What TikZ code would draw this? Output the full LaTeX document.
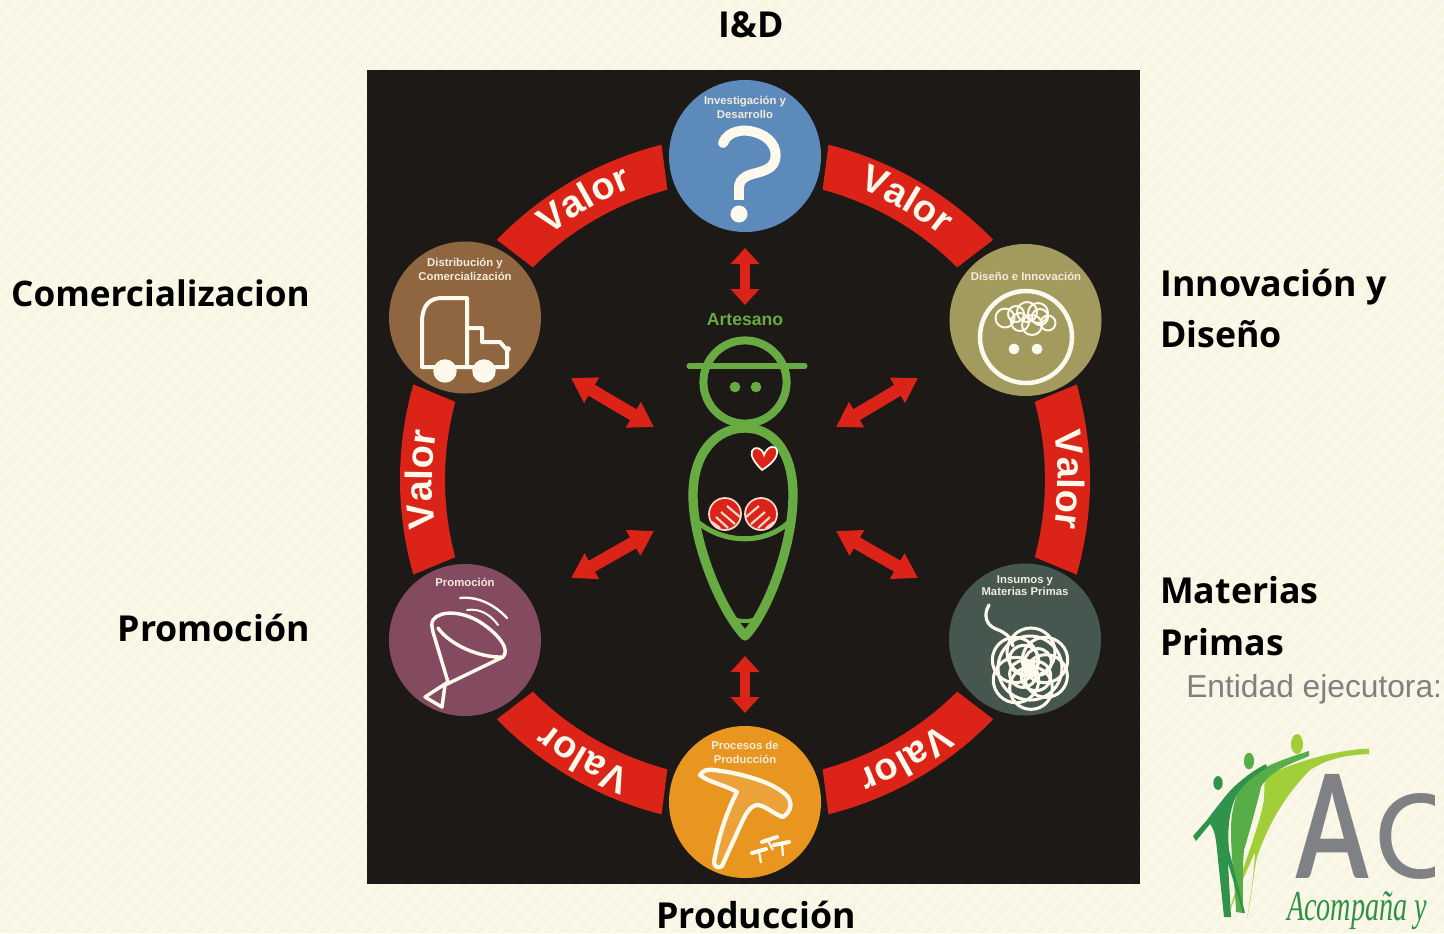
\documentclass[tikz,border=0pt]{standalone}
\usepackage{fontspec}
\setmainfont{Liberation Sans}
\newfontfamily\labelfont{Open Sans}
\newfontfamily\logofont{Lato}
\newfontfamily\handfont{Liberation Serif}
\usetikzlibrary{arrows.meta,decorations.text}
\definecolor{pagebg}{HTML}{F8F5E3}
\definecolor{pagestripe}{HTML}{FBF9EC}
\definecolor{panel}{HTML}{1C1917}
\definecolor{bandred}{HTML}{DC2318}
\definecolor{cream}{HTML}{FDF9EC}
\definecolor{captxt}{HTML}{F1ECDC}
\definecolor{cblue}{HTML}{5B8ABB}
\definecolor{colive}{HTML}{A39A5E}
\definecolor{cslate}{HTML}{45574F}
\definecolor{corange}{HTML}{E8961F}
\definecolor{cmauve}{HTML}{834A60}
\definecolor{cbrown}{HTML}{8F663F}
\definecolor{figgreen}{HTML}{69AB43}
\definecolor{greytxt}{HTML}{808080}
\definecolor{logogrey}{HTML}{808184}
\definecolor{logolime}{HTML}{A2CE39}
\definecolor{logomid}{HTML}{57AD47}
\definecolor{logodark}{HTML}{2F934B}
\definecolor{logoscript}{HTML}{2F9148}
\newcommand{\valorfont}{\bfseries\fontsize{28.5}{30}\selectfont}
\tikzset{
  stage/.style={circle,inner sep=0pt,minimum size=114pt},
  captext/.style={text=captxt,font=\bfseries\fontsize{8.5}{10.5}\selectfont,align=center,inner sep=0pt},
  bigl/.style={text=black,font=\labelfont\bfseries\fontsize{26.8}{38}\selectfont,inner sep=0pt,align=left},
  icon/.style={draw=cream,line width=3pt,line join=round,line cap=round},
  thinicon/.style={draw=cream,line width=1.5pt},
  fig/.style={draw=figgreen,line width=7pt,line cap=round,line join=round},
  vdbl/.style={draw=bandred,line width=7.5pt,{Triangle[length=12pt,width=21pt]}-{Triangle[length=12pt,width=21pt]}},
  ddbl/.style={draw=bandred,line width=9.5pt,{Triangle[length=18pt,width=21pt]}-{Triangle[length=18pt,width=21pt]}}
}
\begin{document}
\begin{tikzpicture}[x=0.75pt,y=-0.75pt]
\useasboundingbox (0,0) rectangle (1444,933);
\begin{scope}
\clip (0,0) rectangle (1444,933);
\fill[pagebg] (0,0) rectangle (1444,933);
\foreach \i in {-1000,-986,...,1444}
  \draw[pagestripe,line width=2.6pt] (\i,933) -- (\i+850,0);

% panel
\fill[panel] (367,70) rectangle (1140,884);

% value bands
\begin{scope}[shift={(745,479.5)},x=0.75pt,y=0.75pt]
\foreach \c in {60,0,-60,-120,180,120}{
  \fill[bandred] (\c+16:258.75pt) arc[start angle=\c+16,end angle=\c-16,radius=258.75pt]
     -- (\c-15:225pt) arc[start angle=\c-15,end angle=\c+15,radius=225pt] -- cycle;
  \path[decorate,decoration={text along path,text align=center,raise=2.5pt,text={|\valorfont\color{cream}|Valor}}]
     (\c+15:232pt) arc[start angle=\c+15,end angle=\c-15,radius=232pt];
}
\end{scope}

% stages
\node[stage,fill=cblue]   (rd)    at (745,156) {};
\node[stage,fill=colive]  (dis)   at (1025.5,320) {};
\node[stage,fill=cslate]  (ins)   at (1025,639.5) {};
\node[stage,fill=corange] (prod)  at (745,802) {};
\node[stage,fill=cmauve]  (prom)  at (465,640) {};
\node[stage,fill=cbrown]  (com)   at (465,317.5) {};

\node[captext] (trd)   at (745,107) {Investigación y\\Desarrollo};
\node[captext] (tdis)  at (1026,276) {Diseño e Innovación};
\node[captext] (tins)  at (1025,586) {Insumos y\\[-1.5pt]Materias Primas};
\node[captext] (tprod) at (745,752) {Procesos de\\Producción};
\node[captext] (tprom) at (465,582) {Promoción};
\node[captext] (tcom)  at (465,269) {Distribución y\\Comercialización};

% question mark
\draw[cream,line width=7.5pt,line cap=round] (723,143) .. controls (728,130) and (745,129) .. (754,132)
   .. controls (770,136) and (778,148) .. (775,160) .. controls (772,172) and (755,172) .. (747,176)
   .. controls (741,179) and (739,183) .. (739,188);
\draw[cream,line width=7.5pt] (739,186) -- (739,200);
\fill[cream] (739,214) circle[radius=6.4pt];

% face with ideas
\draw[cream,line width=3.4pt] (1026,337) circle[radius=34.5pt];
\fill[cream] (1014,349) circle[radius=4.1pt] (1037,349) circle[radius=4.1pt];
\foreach \px/\py/\pr in {1005/318/9.5,1016/314/8,1027/312/10,1038/313/10,1048/323/7.5,1020/322/9,1032/325/10,1040/317/8}
  \draw[thinicon] (\px,\py) circle[radius=\pr*0.75pt];

% yarn ball
\draw[icon,line width=2.4pt] (989,605) .. controls (983,615) and (986,625) .. (996,629)
   .. controls (1004,632) and (1010,635) .. (1013,646);
\foreach \bx/\by/\br in {1031/652/18,1045/660/17,1046/676/16,1031/688/16,1016/680/17,1015/660/17,1030/668/24,1024/660/11,1038/662/10,1036/676/11,1023/674/10}
  \draw[cream,line width=2.3pt] (\bx,\by) circle[radius=\br*1pt];
\fill[cream] (1029,666) circle[radius=5pt];

% mallet
\draw[icon,line width=3.2pt,fill=cream!12!corange] (700,775) .. controls (703,770) and (708,769) .. (714,770)
   .. controls (740,773) and (775,782) .. (788,797) .. controls (793,805) and (790,812) .. (783,817)
   .. controls (775,815) and (765,805) .. (757,805) .. controls (750,806) and (745,815) .. (742,822)
   -- (722,866) .. controls (719,869) and (714,867) .. (714,862)
   .. controls (718,840) and (725,815) .. (737,792) .. controls (725,785) and (708,782) .. (700,775) -- cycle;
\foreach \ax/\ay/\bx/\by/\cx/\cy/\dx/\dy in {752/853/766/849/759/852/761/863,762/842/777/837/768/841/773/850,774/845/789/842/782/844/783/856}{
  \draw[cream,line width=3pt,line cap=round] (\ax,\ay) -- (\bx,\by);
  \draw[cream,line width=1.7pt] (\cx,\cy) -- (\dx,\dy);
}

% funnel
\draw[icon,line width=2.6pt] (438,628) .. controls (450,645) and (480,658) .. (503,657)
   .. controls (510,650) and (500,635) .. (480,622) .. controls (462,611) and (440,610) .. (433,620)
   .. controls (431,624) and (432,627) .. (433,632) -- (448,682) -- (425,697) -- (442,707) -- (445,685) -- (503,657);
\draw[icon,line width=1.8pt] (460,598) .. controls (478,596) and (495,605) .. (507,618);
\draw[icon,line width=1.5pt] (467,610) .. controls (480,608) and (491,615) .. (498,625);

% truck
\draw[icon] (467,367) -- (422,367) -- (422,322) .. controls (422,305) and (430,298) .. (442,298) -- (467,298) -- (467,367)
   (467,328) -- (482,328) -- (482,342) -- (500,342) -- (507,350) -- (507,367) -- (467,367);
\fill[cream] (445,371) circle[radius=8.8pt] (484,371) circle[radius=8.8pt];
\fill[cream] (508,349) circle[radius=2.2pt];

% arrows
\coordinate (ua) at (745,248); \coordinate (ub) at (745,305);
\coordinate (la) at (745,656); \coordinate (lb) at (745,713);
\coordinate (a1) at (571,378); \coordinate (a2) at (654,427);
\coordinate (b1) at (918,378); \coordinate (b2) at (836,427);
\coordinate (c1) at (571,578); \coordinate (c2) at (654,531);
\coordinate (d1) at (918,578); \coordinate (d2) at (836,531);
\draw[vdbl] (ua) -- (ub);
\draw[vdbl] (la) -- (lb);
\draw[ddbl] (a1) -- (a2);
\draw[ddbl] (b1) -- (b2);
\draw[ddbl] (c1) -- (c2);
\draw[ddbl] (d1) -- (d2);

% artisan figure
\node[text=figgreen,font=\bfseries\fontsize{13.2}{15}\selectfont,inner sep=0pt] (art) at (745,320) {Artesano};
\draw[fig,line width=6pt] (745,382) circle[radius=31.2pt];
\draw[fig,line width=3.8pt] (689,366) -- (805,366);
\fill[figgreen] (735,387) circle[radius=4pt] (756,387) circle[radius=4pt];
\draw[fig] (745,636) .. controls (722,612) and (693,545) .. (693,495) .. controls (693,452) and (717,428) .. (745,428)
   .. controls (773,428) and (793,452) .. (793,495) .. controls (793,545) and (768,612) .. (745,636) -- cycle;
\draw[fig,line width=3.8pt,line cap=butt] (699,523) .. controls (725,544) and (765,544) .. (788,523);
\draw[fig,line width=3pt,line cap=butt] (731,618) .. controls (740,622) and (750,622) .. (759,618);
% hands
\foreach \hx/\hs in {725/1,761/-1}{
  \begin{scope}
    \clip (\hx,514) circle[radius=12pt];
    \fill[bandred] (\hx,514) circle[radius=12pt];
    \foreach \ax/\ay/\bx/\by in {2/-8/15/3,-4/-2/10/10,-9/3/3/14,-13/8/-5/14}
      \draw[cream!85!bandred,line width=1.6pt] (\hx+\hs*\ax,514+\ay) -- (\hx+\hs*\bx,514+\by);
  \end{scope}
  \draw[cream!85!bandred,line width=1.3pt] (\hx,514) circle[radius=12pt];
}
% heart
\draw[cream,line width=1.3pt,fill=bandred] (762,470) .. controls (755,463) and (750,456) .. (752,451)
   .. controls (754,446) and (762,447) .. (764,455) .. controls (767,446) and (776,444) .. (777,451)
   .. controls (778,458) and (770,465) .. (762,470) -- cycle;

% outside labels
\node[bigl,anchor=base] (lid) at (751,37) {I\&D};
\node[bigl,anchor=base east,font=\labelfont\bfseries\fontsize{26.4}{38}\selectfont] (lcom) at (310,306) {Comercializacion};
\node[bigl,anchor=base east] (lpro) at (310,641) {Promoción};
\node[bigl,anchor=base] (lprod) at (756,928) {Producción};
\node[bigl,anchor=base west] (lin1) at (1160,296) {Innovación y};
\node[bigl,anchor=base west] (lin2) at (1160,347) {Diseño};
\node[bigl,anchor=base west] (lma1) at (1160,603) {Materias};
\node[bigl,anchor=base west] (lma2) at (1160,655) {Primas};
\node[text=greytxt,anchor=base west,font=\fontsize{23.8}{26}\selectfont,inner sep=0pt] (ent) at (1186,697) {Entidad ejecutora:};

% logo
\fill[logolime] (1369,748.5) .. controls (1335,750) and (1295,762) .. (1268,775)
   .. controls (1262,780) and (1266,790) .. (1263,805)
   .. controls (1258,830) and (1240,875) .. (1228,915)
   .. controls (1238,890) and (1247,870) .. (1255,852)
   .. controls (1254,875) and (1250,900) .. (1247,919)
   .. controls (1252,895) and (1253,875) .. (1257,857)
   .. controls (1268,825) and (1285,795) .. (1310,770)
   .. controls (1330,757) and (1350,755) .. (1369,754) -- cycle;
\fill[logomid] (1309,751) .. controls (1290,757) and (1265,765) .. (1247,778)
   .. controls (1236,790) and (1231,810) .. (1231,830)
   .. controls (1231,860) and (1235,885) .. (1236,912) -- (1243,913)
   .. controls (1243,890) and (1242,870) .. (1244,850)
   .. controls (1250,830) and (1258,800) .. (1261,787)
   .. controls (1270,770) and (1295,762) .. (1309,756) -- cycle;
\fill[logodark] (1266,764) .. controls (1250,772) and (1235,785) .. (1228,793) .. controls (1220,803) and (1212,813) .. (1207,820)
   -- (1193,836) -- (1196,841) -- (1210,824) .. controls (1215,830) and (1216,840) .. (1217,850) -- (1224,917) -- (1231,917)
   -- (1228,863) -- (1243,913) -- (1245,913) -- (1229,850) .. controls (1227,830) and (1229,805) .. (1240,790)
   .. controls (1248,780) and (1258,773) .. (1267,768) -- cycle;
\fill[logodark] (1218,783) ellipse[x radius=3.5pt,y radius=5.2pt];
\fill[logomid] (1249,761) ellipse[x radius=3.8pt,y radius=6.2pt];
\fill[logolime] (1297,744) ellipse[x radius=4.5pt,y radius=7.5pt];
\node[text=logogrey,font=\logofont\bfseries\fontsize{108}{110}\selectfont,inner sep=0pt,anchor=base,xscale=0.72] (la1) at (1332.5,878) {A};
\begin{scope}
  \clip (1370,780) rectangle (1434,890);
  \node[text=logogrey,font=\logofont\fontsize{88}{90}\selectfont,inner sep=0pt,anchor=base west] (la2) at (1374,878) {C};
\end{scope}
\node[text=logoscript,font=\handfont\itshape\fontsize{32}{34}\selectfont,inner sep=0pt,anchor=base west,xscale=0.66] (lg3) at (1287,920) {Acompaña y};
\end{scope}
\end{tikzpicture}
\end{document}
